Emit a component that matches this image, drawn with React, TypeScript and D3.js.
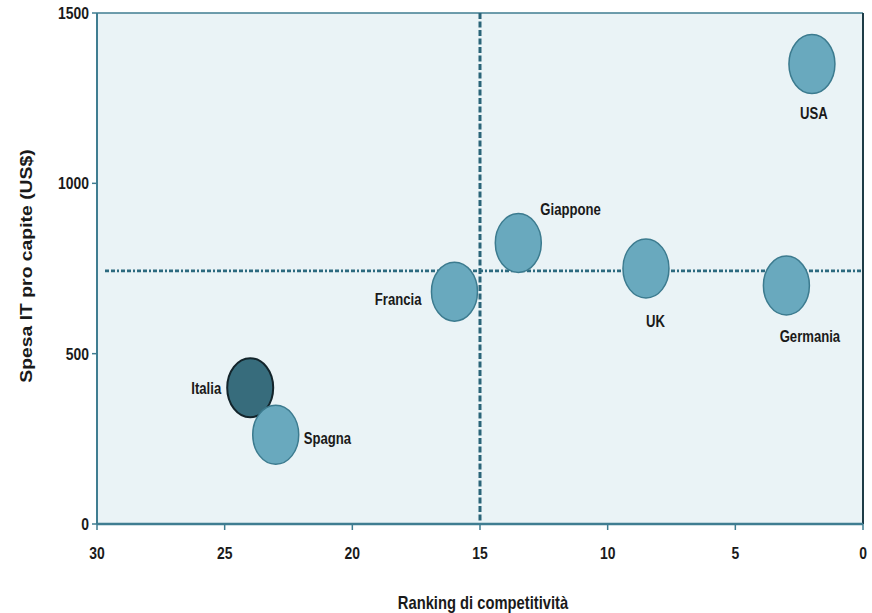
import React from "react";
import * as d3 from "d3";

// Country positions: competitiveness ranking vs IT spending per capita (US$)
const countries = ["USA", "Giappone", "UK", "Germania", "Francia", "Italia", "Spagna"];
const ranking = [2, 13.5, 8.5, 3, 16, 24, 23];
const spesa = [1350, 825, 750, 700, 682, 400, 262];

const xTicks = [30, 25, 20, 15, 10, 5, 0];
const yTicks = [0, 500, 1000, 1500];

// Quadrant reference lines
const refRanking = 15;
const refSpesa = 743;

const W = 872;
const H = 613;
const margin = { left: 97, right: 9, top: 13, bottom: 89 };

const sans = "'Liberation Sans', Arial, sans-serif";

// label anchor and offset for each country relative to its bubble
const labelPos: Record<string, { dx: number; dy: number; anchor: string }> = {
  USA: { dx: 2, dy: 49, anchor: "middle" },
  Giappone: { dx: 22, dy: -34, anchor: "start" },
  UK: { dx: 9.5, dy: 53, anchor: "middle" },
  Germania: { dx: 23.5, dy: 50.5, anchor: "middle" },
  Francia: { dx: -33, dy: 8, anchor: "end" },
  Italia: { dx: -29, dy: 0.5, anchor: "end" },
  Spagna: { dx: 28, dy: 3.5, anchor: "start" },
};

// Condensed bold text: regular bold face squeezed horizontally
function NarrowText(props: { x: number; y: number; anchor?: string; size: number; children: React.ReactNode }) {
  return (
    <text transform={`translate(${props.x},${props.y}) scale(0.82,1)`} dy="0.35em"
      textAnchor={props.anchor || "middle"} fontFamily={sans} fontWeight="bold" fontSize={props.size}
      fill="#1a1a1a">{props.children}</text>
  );
}

export default function App() {
  const x = d3.scaleLinear().domain([30, 0]).range([margin.left, W - margin.right]);
  const y = d3.scaleLinear().domain([0, 1500]).range([H - margin.bottom, margin.top]);
  const x0 = x(30), x1 = x(0), y0 = y(0), y1 = y(1500);
  const axisColor = "#3f7d91";

  return (
    <svg width={W} height={H} style={{ position: "absolute", left: 0, top: 0, background: "#fff" }}>
      {/* plot background */}
      <rect x={x0} y={y1} width={x1 - x0} height={y0 - y1} fill="#eaf3f6" />
      {/* frame */}
      <line x1={x0} x2={x1} y1={y1} y2={y1} stroke={axisColor} strokeWidth={1.5} />
      <line x1={x1} x2={x1} y1={y1} y2={y0} stroke="#1e3c47" strokeWidth={2} />

      {/* reference lines */}
      <line x1={x0 + 8} x2={x1} y1={y(refSpesa)} y2={y(refSpesa)} stroke="#2c6a7f" strokeWidth={2.6}
        strokeDasharray="4,2,4,2,2,2" />
      <line x1={x(refRanking)} x2={x(refRanking)} y1={y1} y2={y0} stroke="#2a6478" strokeWidth={3}
        strokeDasharray="6,2.5" />

      {/* axes */}
      <line x1={x0} x2={x0} y1={y1} y2={y0} stroke={axisColor} strokeWidth={2} />
      <line x1={x0} x2={x1} y1={y0} y2={y0} stroke={axisColor} strokeWidth={2.5} />
      {yTicks.map((t) => (
        <g key={"y" + t}>
          <line x1={x0 - 5} x2={x0} y1={y(t)} y2={y(t)} stroke={axisColor} strokeWidth={1.5} />
          <NarrowText x={x0 - 8} y={y(t)} anchor="end" size={17}>{t}</NarrowText>
        </g>
      ))}
      {xTicks.map((t) => (
        <g key={"x" + t}>
          <line x1={x(t)} x2={x(t)} y1={y0} y2={y0 + 6} stroke={axisColor} strokeWidth={1.5} />
          <NarrowText x={x(t)} y={y0 + 29} size={17}>{t}</NarrowText>
        </g>
      ))}

      {/* axis titles */}
      <NarrowText x={(x0 + x1) / 2 + 3} y={603} size={18}>Ranking di competitività</NarrowText>
      <text transform={`translate(26,266) rotate(-90) scale(1.21,1)`} dy="0.35em" textAnchor="middle"
        fontFamily={sans} fontWeight="bold" fontSize={16} fill="#1a1a1a">
        Spesa IT pro capite (US$)
      </text>

      {/* bubbles */}
      {countries.map((c, i) => {
        const isItaly = c === "Italia";
        return (
          <ellipse key={c} cx={x(ranking[i])} cy={y(spesa[i])} rx={23} ry={29.5}
            fill={isItaly ? "#376c7c" : "#69a9be"}
            stroke={isItaly ? "#13242b" : "#3c7b8f"} strokeWidth={isItaly ? 2 : 1.5} />
        );
      })}

      {/* country labels */}
      {countries.map((c, i) => {
        const p = labelPos[c];
        return (
          <NarrowText key={"l" + c} x={x(ranking[i]) + p.dx} y={y(spesa[i]) + p.dy} anchor={p.anchor} size={16}>
            {c}
          </NarrowText>
        );
      })}
    </svg>
  );
}
